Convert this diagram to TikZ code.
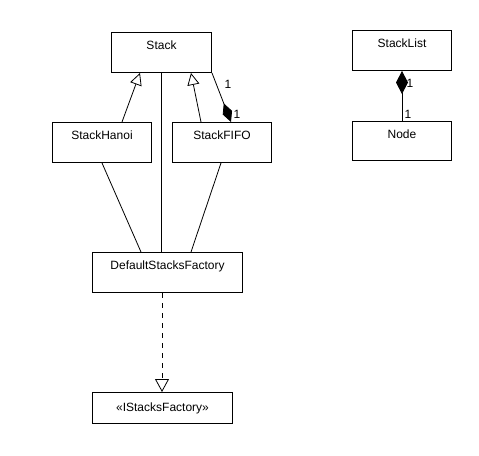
\documentclass[tikz,border=0pt]{standalone}
\usepackage{fontspec}
\setmainfont{Liberation Sans}
\usetikzlibrary{arrows.meta,calc}
\begin{document}
\begin{tikzpicture}[x=1pt,y=-1pt,
  every node/.style={font=\fontsize{12}{14}\selectfont},
  cls/.style={draw, line width=1pt, inner xsep=0pt, inner ysep=0pt,
    text height=17pt, text depth=23pt, anchor=north west},
  iface/.style={draw, line width=1pt, inner sep=0pt, minimum height=31pt, anchor=north west},
  conn/.style={line width=0.8pt},
  inherit/.style={conn, -{Triangle[open, length=12pt, width=12pt, fill=white]}},
  compos/.style={conn, -{Diamond[length=20pt, width=10pt, fill=black]}},
  mult/.style={font=\fontsize{12}{14}\selectfont, inner sep=0pt}
]
\useasboundingbox (0,0) rectangle (479,455);

\node[cls, minimum width=100pt] (stack) at (111,32) {Stack};
\node[cls, minimum width=99pt] (hanoi) at (52,122) {StackHanoi};
\node[cls, minimum width=99pt] (fifo) at (172,122) {StackFIFO};
\node[cls, minimum width=99pt] (stacklist) at (352,30) {StackList};
\node[cls, minimum width=99pt, text depth=22pt] (nodecls) at (352,121) {Node};
\node[cls, minimum width=150pt] (default) at (92,252) {DefaultStacksFactory};
\node[iface, minimum width=140pt] (istacks) at (92,392) {«IStacksFactory»};

% inheritance
\draw[inherit] ($(hanoi.north west)+(70,0)$) -- ($(stack.south west)+(29,0)$);
\draw[inherit] ($(fifo.north west)+(29,0)$) -- ($(stack.south west)+(80,0)$);

% associations to factory
\draw[conn] ($(stack.south west)+(50,0)$) -- ($(default.north west)+(69,0)$);
\draw[conn] ($(hanoi.south west)+(50,0)$) -- ($(default.north west)+(49,0)$);
\draw[conn] ($(fifo.south west)+(49,0)$) -- ($(default.north west)+(99,0)$);

% composition Stack -- StackFIFO
\coordinate (fifoend) at ($(fifo.north west)+(59,0)$);
\draw[compos] (stack.south east) -- (fifoend);
\node[mult] (m1) at (228,84) {1};
\node[mult] (m2) at (237,114) {1};

% composition StackList -- Node
\draw[conn, {Diamond[length=23pt, width=12pt, fill=black]}-] (stacklist.south) -- (nodecls.north);
\node[mult] (m3) at (410,83) {1};
\node[mult] (m4) at (408,114) {1};

% realization
\draw[conn, dash pattern=on 5pt off 5pt, -{Triangle[open, length=13pt, width=14pt, fill=white]}]
  ($(default.south west)+(70,0)$) -- ($(istacks.north west)+(70,0)$);
\end{tikzpicture}
\end{document}
